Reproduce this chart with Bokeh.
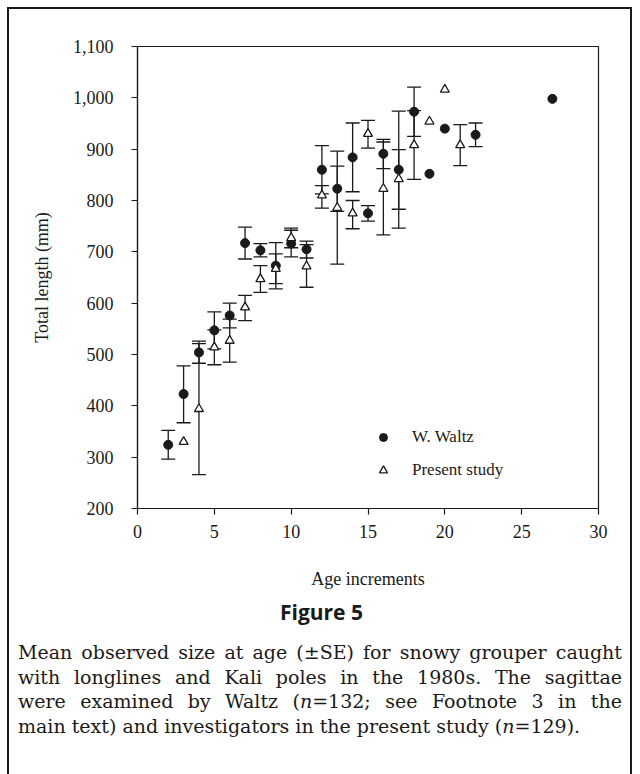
from bokeh.plotting import figure
from bokeh.layouts import column
from bokeh.models import (Range1d, FixedTicker, NumeralTickFormatter, Whisker, ColumnDataSource,
                          Legend, LegendItem, TeeHead, Div)
from bokeh.embed import file_html
from bokeh.resources import INLINE

# ---- data ----
waltz_age = [2, 3, 4, 5, 6, 7, 8, 9, 10, 11, 12, 13, 14, 15, 16, 17, 18, 19, 20, 22, 27]
waltz_mean = [324, 423, 504, 547, 576, 717, 703, 673, 716, 705, 860, 823, 884, 775, 891, 860, 973, 852, 940, 928, 998]
waltz_lower = [296, 367, 483, 511, 552, 686, 690, 628, 690, 688, 813, 779, 817, 760, 862, 746, 925, None, None, 905, None]
waltz_upper = [352, 478, 526, 583, 600, 748, 716, 718, 742, 721, 907, 867, 951, 790, 919, 974, 1021, None, None, 951, None]

present_age = [3, 4, 5, 6, 7, 8, 9, 10, 11, 12, 13, 14, 15, 16, 17, 18, 19, 20, 21]
present_mean = [330, 394, 514, 527, 592, 647, 667, 727, 672, 810, 786, 775, 930, 823, 842, 908, 954, 1016, 908]
present_lower = [None, 266, 480, 485, 566, 621, 638, 708, 631, 785, 676, 745, 902, 733, 783, 841, None, None, 868]
present_upper = [None, 521, 548, 569, 615, 673, 696, 746, 714, 829, 896, 800, 956, 914, 899, 975, None, None, 948]

y_ticks = [200, 300, 400, 500, 600, 700, 800, 900, 1000, 1100]
x_ticks = [0, 5, 10, 15, 20, 25, 30]

caption_title = "Figure 5"
caption_lines = [
    "Mean observed size at age (\u00b1SE) for snowy grouper caught",
    "with longlines and Kali poles in the 1980s. The sagittae",
    "were examined by Waltz (<i>n</i>=132; see Footnote 3 in the",
    "main text) and investigators in the present study (<i>n</i>=129).",
]

INK = "#1a1a1a"
SERIF = "Liberation Serif"

OX, OY = 9, 9                 # inner top-left corner of the boxed figure on the page
FL, FR, FT, FB = 137, 598, 46, 508  # frame edges on the page
PW, PH = 621, 585             # chart canvas size

p = figure(width=PW, height=PH, output_backend="svg", toolbar_location=None,
           x_range=Range1d(0, 30), y_range=Range1d(200, 1100),
           min_border_left=FL - OX, min_border_right=OX + PW - FR,
           min_border_top=FT - OY, min_border_bottom=OY + PH - FB)
p.background_fill_color = "white"
p.border_fill_color = "white"
p.grid.visible = False
p.outline_line_color = INK
p.outline_line_width = 1.2

for ax in (p.xaxis[0], p.yaxis[0]):
    ax.axis_line_color = INK
    ax.axis_line_width = 1.2
    ax.major_tick_line_color = INK
    ax.major_tick_line_width = 1.2
    ax.major_tick_in = 0
    ax.major_tick_out = 6
    ax.minor_tick_line_color = None
    ax.major_label_text_font = SERIF
    ax.major_label_text_font_size = "18px"
    ax.major_label_text_color = INK
    ax.axis_label_text_font = SERIF
    ax.axis_label_text_font_size = "18px"
    ax.axis_label_text_font_style = "normal"
    ax.axis_label_text_color = INK

p.xaxis.ticker = FixedTicker(ticks=x_ticks)
p.yaxis.ticker = FixedTicker(ticks=y_ticks)
p.yaxis.formatter = NumeralTickFormatter(format="0,0")
p.xaxis.axis_label = "Age increments"
p.yaxis.axis_label = "Total length (mm)"
p.xaxis.major_label_standoff = 10
p.yaxis.major_label_standoff = 18
p.xaxis.axis_label_standoff = 28
p.yaxis.axis_label_standoff = 18


def bars(ages, lower, upper):
    xs, lo, hi = [], [], []
    for a, l, u in zip(ages, lower, upper):
        if l is not None and u is not None:
            xs.append(a); lo.append(l); hi.append(u)
    return ColumnDataSource(dict(x=xs, lower=lo, upper=hi))


for src in (bars(waltz_age, waltz_lower, waltz_upper), bars(present_age, present_lower, present_upper)):
    w = Whisker(base="x", lower="lower", upper="upper", source=src, dimension="height",
                line_color=INK, line_width=1.3,
                upper_head=TeeHead(size=14, line_color=INK, line_width=1.3),
                lower_head=TeeHead(size=14, line_color=INK, line_width=1.3))
    p.add_layout(w)

rw = p.scatter(waltz_age, waltz_mean, marker="circle", size=9, fill_color=INK, line_color=INK)
rp = p.scatter(present_age, present_mean, marker="triangle", size=9, fill_color="white",
               line_color=INK, line_width=1.3)

legend = Legend(items=[LegendItem(label="W. Waltz", renderers=[rw]),
                       LegendItem(label="Present study", renderers=[rp])],
                location=(236, 28), padding=0, margin=0, spacing=13,
                glyph_width=20, glyph_height=20, label_height=20, label_standoff=19,
                border_line_color=None, background_fill_alpha=0,
                label_text_font=SERIF, label_text_font_size="17px", label_text_color=INK)
p.add_layout(legend)

line_divs = []
for i, line in enumerate(caption_lines):
    last = i == len(caption_lines) - 1
    align = "left" if last else "justify"
    line_divs.append(
        f'<div style="text-align:justify;text-align-last:{align};white-space:nowrap;'
        f'height:24.5px;line-height:24.5px;">{line}</div>')

html = (
    f'<div style="width:{PW}px;color:{INK};">'
    f'<div style="text-align:center;font-family:\'Open Sans\';font-weight:bold;font-size:21px;'
    f'line-height:26px;padding-top:5px;padding-left:4px;">{caption_title}</div>'
    f'<div style="font-family:\'DejaVu Serif\';font-size:19px;padding:15px 8px 0 9px;">'
    + "".join(line_divs) +
    '</div></div>'
)
cap = Div(text=html, width=PW, height=200, margin=0)

layout = column(p, cap, spacing=0,
                styles={"border": f"2px solid {INK}", "margin-left": f"{OX - 2}px",
                        "margin-top": f"{OY - 2}px", "background-color": "white"})

open("out.html", "w").write(file_html(layout, INLINE))
